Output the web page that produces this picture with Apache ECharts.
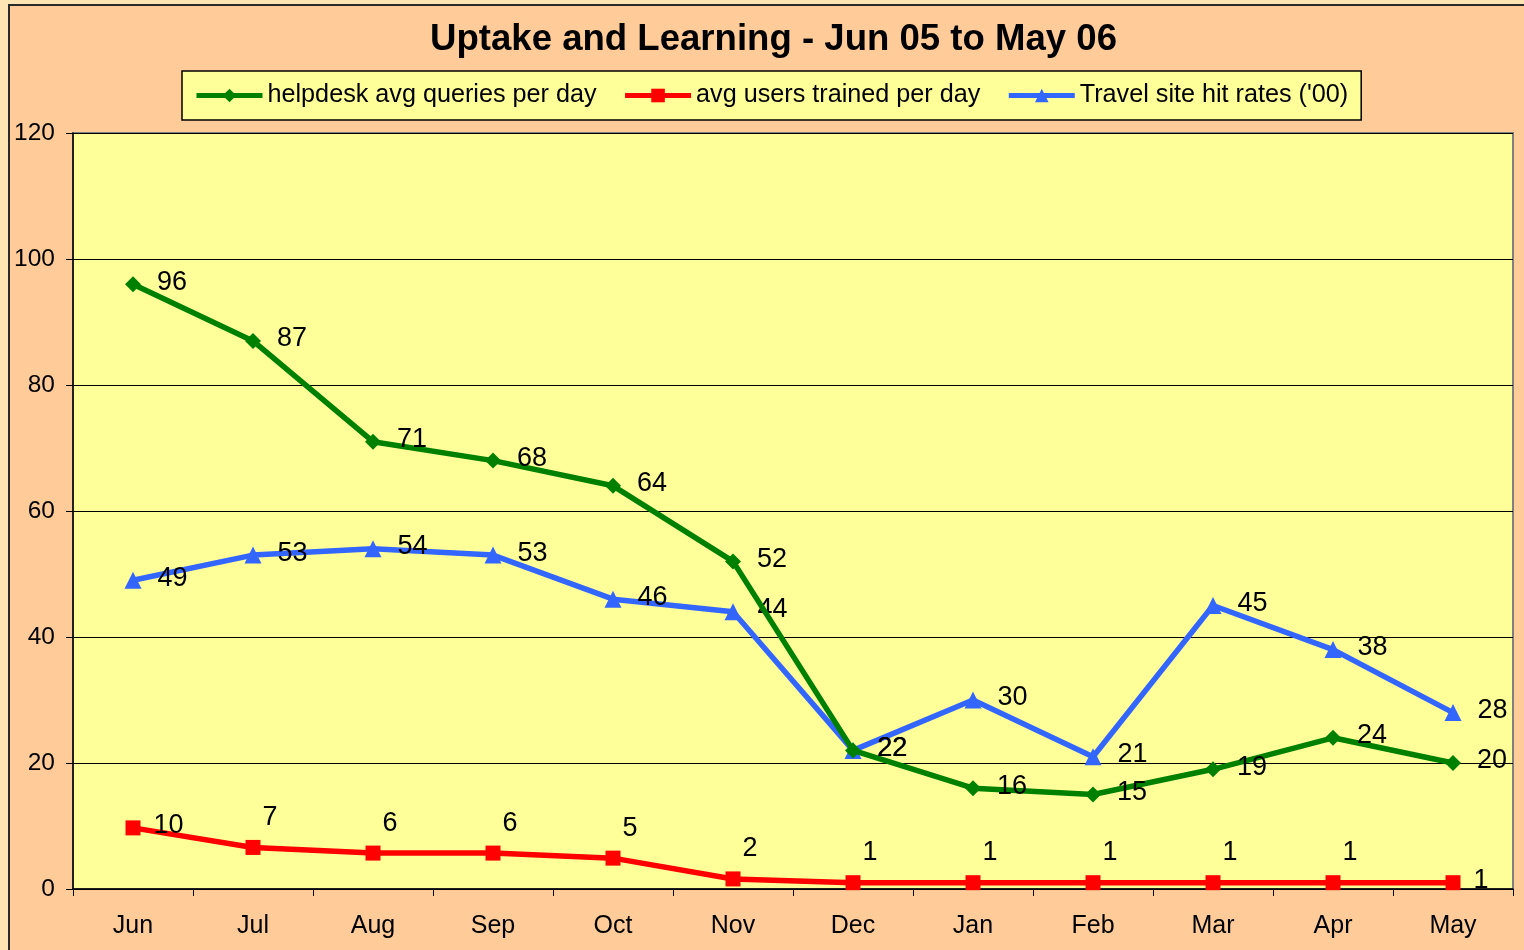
<!DOCTYPE html>
<html>
<head>
<meta charset="utf-8">
<script src="https://cdn.jsdelivr.net/npm/echarts@6/dist/echarts.min.js"></script>
<style>
  html, body { margin: 0; padding: 0; background: #fde5b4; overflow: hidden; }
  #frame { position: absolute; left: 8px; top: 4px; width: 1600px; height: 1000px; background: #ffcc99; border: 2px solid #2b2b2b; }
  #main { position: absolute; left: 0; top: 0; width: 1524px; height: 950px; }
</style>
</head>
<body>
<div id="frame"></div>
<div id="main"></div>
<script>
const months = ['Jun', 'Jul', 'Aug', 'Sep', 'Oct', 'Nov', 'Dec', 'Jan', 'Feb', 'Mar', 'Apr', 'May']
const helpdesk = [96, 87, 71, 68, 64, 52, 22, 16, 15, 19, 24, 20]
const trained = [9.7, 6.6, 5.7, 5.7, 4.9, 1.6, 1, 1, 1, 1, 1, 1]
const travel = [49, 53, 54, 53, 46, 44, 22, 30, 21, 45, 38, 28]

const font = '"Liberation Sans", Arial, sans-serif'

const sideLabel = {
  show: true,
  position: 'right',
  distance: 16,
  offset: [0, -2],
  fontSize: 27,
  fontFamily: font,
  color: '#000',
  formatter: (p) => Math.round(p.value),
}

// red labels sit above the points, except the two ends
const trainedData = trained.map((v, i) => {
  if (i === 0 || i === trained.length - 1) return { value: v, label: { position: 'right', distance: 13, offset: [0, -2] } }
  return v
})

const myChart = echarts.init(document.getElementById('main'))

const option = {
  backgroundColor: 'transparent',
  animation: false,
  title: {
    text: 'Uptake and Learning - Jun 05 to May 06',
    left: 430,
    top: 21,
    padding: 0,
    textStyle: { fontSize: 36.6, fontWeight: 'bold', fontFamily: font, color: '#000' },
  },
  legend: {
    left: 182,
    top: 71,
    padding: [12, 13, 12, 12],
    itemGap: 26,
    itemWidth: 66,
    itemHeight: 17,
    backgroundColor: '#ffff99',
    borderColor: '#000',
    borderWidth: 1.5,
    borderRadius: 0,
    lineStyle: { width: 5 },
    textStyle: { fontSize: 25.2, fontFamily: font, color: '#000' },
  },
  grid: {
    left: 73,
    right: 11,
    top: 133,
    bottom: 61,
    show: true,
    backgroundColor: '#ffff99',
    borderColor: '#808080',
    borderWidth: 2,
  },
  xAxis: {
    type: 'category',
    data: months,
    boundaryGap: true,
    axisLine: { lineStyle: { color: '#000', width: 1.5 } },
    axisTick: { show: true, length: 7, lineStyle: { color: '#000' } },
    axisLabel: { fontSize: 25, fontFamily: font, color: '#000', margin: 25 },
  },
  yAxis: {
    type: 'value',
    min: 0,
    max: 120,
    interval: 20,
    axisLine: { show: true, lineStyle: { color: '#000', width: 1.5 } },
    axisTick: { show: true, length: 7, lineStyle: { color: '#000' } },
    axisLabel: { fontSize: 24.5, fontFamily: font, color: '#000', margin: 18 },
    splitLine: { lineStyle: { color: '#000', width: 1 } },
  },
  series: [
    {
      name: 'helpdesk avg queries per day',
      type: 'line',
      data: helpdesk,
      color: '#008000',
      symbol: 'diamond',
      symbolSize: 16,
      lineStyle: { width: 5.5 },
      label: sideLabel,
      z: 3,
    },
    {
      name: 'avg users trained per day',
      type: 'line',
      data: trainedData,
      color: '#ff0000',
      symbol: 'rect',
      symbolSize: 15,
      lineStyle: { width: 5.5 },
      label: {
        show: true,
        position: 'top',
        distance: 5,
        offset: [17, -4],
        fontSize: 27,
        fontFamily: font,
        color: '#000',
        formatter: (p) => Math.round(p.value),
      },
      z: 2,
    },
    {
      name: "Travel site hit rates ('00)",
      type: 'line',
      data: travel,
      color: '#3366ff',
      symbol: 'triangle',
      symbolSize: 17,
      lineStyle: { width: 5.5 },
      label: sideLabel,
      z: 2,
    },
  ],
}

myChart.setOption(option)
</script>
</body>
</html>
